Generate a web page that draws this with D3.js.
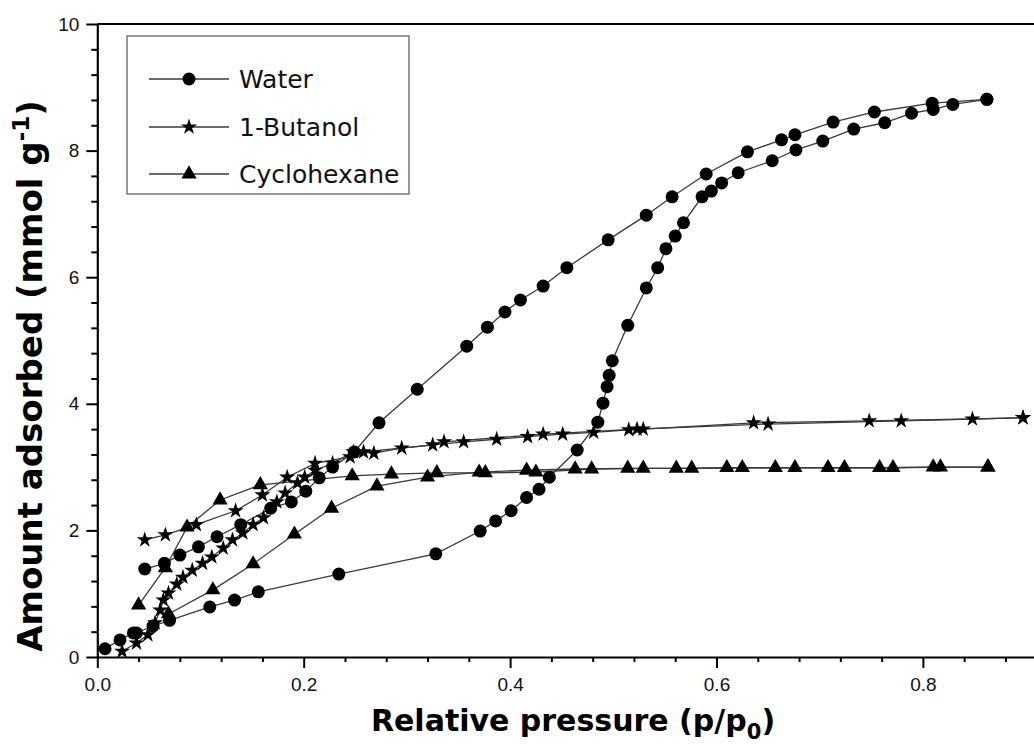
<!DOCTYPE html>
<html>
<head>
<meta charset="utf-8">
<script src="https://cdn.jsdelivr.net/npm/d3@7"></script>
<style>
  html, body { margin: 0; padding: 0; background: #fff; }
  svg { display: block; }
</style>
</head>
<body>
<svg id="chart" width="1034" height="746"></svg>
<script>
// ---------------- data ----------------
const seriesNames = ["Water", "1-Butanol", "Cyclohexane"];

const waterAdsorption = [
  [0.0075,0.13],[0.022,0.27],[0.035,0.38],[0.038,0.38],[0.054,0.49],[0.070,0.58],
  [0.109,0.79],[0.133,0.90],[0.156,1.03],[0.234,1.31],[0.328,1.63],[0.371,1.99],
  [0.386,2.15],[0.401,2.31],[0.416,2.52],[0.428,2.65],[0.438,2.84],[0.465,3.27],
  [0.485,3.71],[0.490,4.01],[0.494,4.27],[0.496,4.45],[0.499,4.68],[0.514,5.24],
  [0.532,5.83],[0.543,6.15],[0.551,6.45],[0.560,6.65],[0.568,6.86],[0.586,7.27],
  [0.595,7.36],[0.605,7.49],[0.621,7.65],[0.654,7.84],[0.677,8.01],[0.703,8.15],
  [0.733,8.34],[0.763,8.44],[0.789,8.59],[0.810,8.65],[0.829,8.73],[0.862,8.81]
];
const waterDesorption = [
  [0.862,8.81],[0.809,8.75],[0.753,8.61],[0.713,8.45],[0.676,8.25],[0.663,8.17],
  [0.630,7.98],[0.590,7.63],[0.557,7.27],[0.532,6.98],[0.495,6.59],[0.455,6.15],
  [0.432,5.86],[0.410,5.64],[0.395,5.45],[0.378,5.21],[0.358,4.91],[0.310,4.23],
  [0.273,3.70],[0.249,3.24],[0.228,3.00],[0.215,2.83],[0.202,2.62],[0.188,2.45],
  [0.168,2.35],[0.139,2.09],[0.116,1.90],[0.098,1.74],[0.080,1.61],[0.065,1.48],
  [0.046,1.39]
];
const butanolAdsorption = [
  [0.024,0.09],[0.038,0.22],[0.049,0.35],[0.056,0.54],[0.061,0.74],[0.064,0.90],
  [0.069,1.01],[0.077,1.15],[0.083,1.26],[0.092,1.37],[0.102,1.48],[0.111,1.58],
  [0.122,1.72],[0.131,1.85],[0.141,1.96],[0.151,2.09],[0.161,2.20],[0.174,2.45],
  [0.182,2.59],[0.194,2.75],[0.201,2.84],[0.211,2.95],[0.228,3.06],[0.248,3.24],
  [0.268,3.22],[0.295,3.30],[0.355,3.40],[0.387,3.44],[0.417,3.48],[0.451,3.52],
  [0.481,3.55],[0.515,3.59],[0.529,3.60],[0.636,3.70],[0.748,3.73],[0.848,3.76],
  [0.897,3.78]
];
const butanolDesorption = [
  [0.897,3.78],[0.779,3.73],[0.650,3.68],[0.523,3.60],[0.432,3.52],[0.336,3.40],
  [0.325,3.35],[0.258,3.24],[0.245,3.16],[0.211,3.06],[0.184,2.84],[0.160,2.56],
  [0.134,2.31],[0.096,2.09],[0.066,1.93],[0.046,1.85]
];
const cyclohexaneAdsorption = [
  [0.069,0.68],[0.112,1.06],[0.151,1.47],[0.191,1.94],[0.227,2.35],[0.271,2.70],
  [0.320,2.84],[0.370,2.92],[0.416,2.95],[0.463,2.97],[0.514,2.98],[0.561,2.98],
  [0.610,2.99],[0.657,2.99],[0.708,2.99],[0.758,2.99],[0.810,3.00],[0.863,3.00]
];
const cyclohexaneDesorption = [
  [0.863,3.00],[0.817,3.00],[0.771,2.99],[0.724,2.99],[0.676,2.99],[0.625,2.99],
  [0.576,2.98],[0.529,2.98],[0.479,2.97],[0.425,2.92],[0.376,2.91],[0.329,2.91],
  [0.285,2.89],[0.247,2.86],[0.158,2.72],[0.119,2.48],[0.087,2.05],[0.066,1.41],
  [0.040,0.82]
];

const xMajorTicks = [0, 0.2, 0.4, 0.6, 0.8];
const xMinorTicks = [0.04,0.08,0.12,0.16,0.24,0.28,0.32,0.36,0.44,0.48,0.52,0.56,0.64,0.68,0.72,0.76,0.84,0.88,0.92];
const yMajorTicks = [0, 2, 4, 6, 8, 10];
const yMinorTicks = [0.4,0.8,1.2,1.6,2.4,2.8,3.2,3.6,4.4,4.8,5.2,5.6,6.4,6.8,7.2,7.6,8.4,8.8,9.2,9.6];

// ---------------- layout ----------------
const svg = d3.select("#chart");
const plotLeft = 97.3, plotBottom = 657, plotTop = 24;
const x = d3.scaleLinear().domain([0, 0.95]).range([plotLeft, plotLeft + 0.95 * 1032]);
const y = d3.scaleLinear().domain([0, 10]).range([plotBottom, plotTop]);
const lineColor = "#3a3a3a";
const markerColor = "#000";

svg.append("rect").attr("width", 1034).attr("height", 746).attr("fill", "#fff");

// top frame line
svg.append("line").attr("x1", plotLeft).attr("x2", x(0.95)).attr("y1", y(10)).attr("y2", y(10))
  .attr("stroke", "#000").attr("stroke-width", 2.2);

// axes
function styleAxis(g) {
  g.selectAll(".domain").attr("stroke", "#000").attr("stroke-width", 2.2);
  g.selectAll(".tick line").attr("stroke", "#000").attr("stroke-width", 2);
  g.selectAll("text").attr("font-family", "'Liberation Sans', Arial, sans-serif")
    .attr("font-size", 19).attr("fill", "#111");
}
const gxMinor = svg.append("g").attr("transform", `translate(0,${plotBottom})`)
  .call(d3.axisBottom(x).tickValues(xMinorTicks).tickSize(5).tickFormat(""));
gxMinor.call(styleAxis); gxMinor.select(".domain").remove();
const gx = svg.append("g").attr("transform", `translate(0,${plotBottom})`)
  .call(d3.axisBottom(x).tickValues(xMajorTicks).tickSize(11).tickPadding(10).tickSizeOuter(0)
    .tickFormat(d3.format(".1f")));
gx.call(styleAxis);

const gyMinor = svg.append("g").attr("transform", `translate(${plotLeft},0)`)
  .call(d3.axisLeft(y).tickValues(yMinorTicks).tickSize(6).tickFormat(""));
gyMinor.call(styleAxis); gyMinor.select(".domain").remove();
const gy = svg.append("g").attr("transform", `translate(${plotLeft},0)`)
  .call(d3.axisLeft(y).tickValues(yMajorTicks).tickSize(11).tickPadding(7).tickSizeOuter(0)
    .tickFormat(d3.format("d")));
gy.call(styleAxis);

// ---------------- series ----------------
const line = d3.line().x(d => x(d[0])).y(d => y(d[1]));
const symCircle = d3.symbol().type(d3.symbolCircle).size(Math.PI * 6.5 * 6.5);
const symStar = d3.symbol().type(d3.symbolStar).size(80);
const symTri = d3.symbol().type(d3.symbolTriangle).size(100);

const series = [
  { data: [waterAdsorption, waterDesorption], sym: symCircle },
  { data: [butanolAdsorption, butanolDesorption], sym: symStar },
  { data: [cyclohexaneAdsorption, cyclohexaneDesorption], sym: symTri }
];

const plot = svg.append("g");
series.forEach(s => {
  s.data.forEach(branch => {
    plot.append("path").datum(branch).attr("d", line)
      .attr("fill", "none").attr("stroke", lineColor).attr("stroke-width", 1.3);
  });
});
series.forEach(s => {
  s.data.forEach(branch => {
    plot.selectAll(null).data(branch).enter().append("path")
      .attr("d", s.sym)
      .attr("transform", d => `translate(${x(d[0])},${y(d[1])})`)
      .attr("fill", markerColor);
  });
});

// ---------------- legend ----------------
const legend = svg.append("g");
legend.append("rect").attr("x", 127).attr("y", 36).attr("width", 282).attr("height", 158)
  .attr("fill", "#fff").attr("stroke", "#555").attr("stroke-width", 1.2);
const legendY = [79, 127, 174];
seriesNames.forEach((name, i) => {
  const ly = legendY[i];
  legend.append("line").attr("x1", 149).attr("x2", 229).attr("y1", ly).attr("y2", ly)
    .attr("stroke", lineColor).attr("stroke-width", 1.3);
  legend.append("path").attr("d", series[i].sym)
    .attr("transform", `translate(189,${ly})`).attr("fill", markerColor);
  legend.append("text").attr("x", 239).attr("y", ly + 9)
    .attr("font-family", "'DejaVu Sans', Verdana, sans-serif").attr("font-size", 25)
    .attr("fill", "#111").text(name);
});

// ---------------- axis titles ----------------
const xt = svg.append("text").attr("x", 573).attr("y", 731).attr("text-anchor", "middle")
  .attr("font-family", "'DejaVu Sans', Verdana, sans-serif").attr("font-weight", "bold")
  .attr("font-size", 30).attr("fill", "#000");
xt.append("tspan").text("Relative pressure (p/p");
xt.append("tspan").attr("dy", 8).attr("font-size", 21).text("0");
xt.append("tspan").attr("dy", -8).text(")");

const yt = svg.append("text").attr("transform", "translate(42,376) rotate(-90)")
  .attr("text-anchor", "middle")
  .attr("font-family", "'DejaVu Sans', Verdana, sans-serif").attr("font-weight", "bold")
  .attr("font-size", 34).attr("fill", "#000");
yt.append("tspan").text("Amount adsorbed (mmol g");
yt.append("tspan").attr("dy", -13).attr("font-size", 23).text("-1");
yt.append("tspan").attr("dy", 13).text(")");
</script>
</body>
</html>
